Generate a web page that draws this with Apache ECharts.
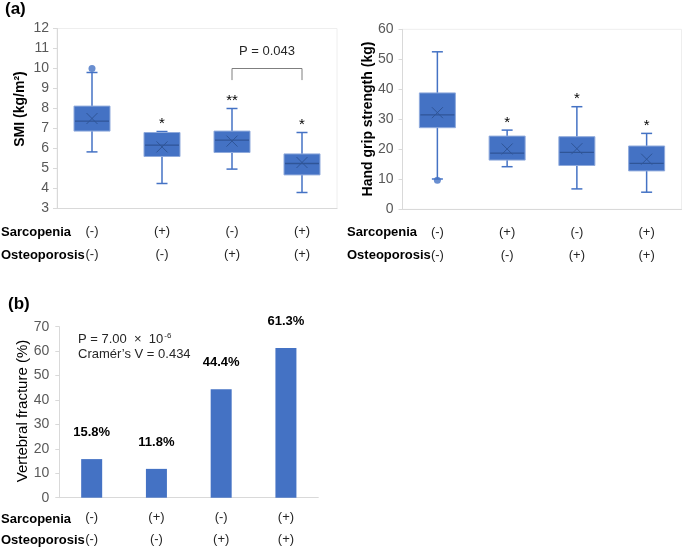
<!DOCTYPE html>
<html><head><meta charset="utf-8">
<script src="https://cdn.jsdelivr.net/npm/echarts@6/dist/echarts.min.js"></script>
<style>html,body{margin:0;padding:0;background:#fff}#c{width:685px;height:550px}</style>
</head><body><div id="c"></div>
<script>
// ---------- data ----------
const groups = ['S-O-', 'S+O-', 'S-O+', 'S+O+'];
const sarcopenia = ['(-)', '(+)', '(-)', '(+)'];
const osteoporosis = ['(-)', '(-)', '(+)', '(+)'];

// SMI boxes: [min, Q1, median, Q3, max]
const smiBox = [[5.83, 6.87, 7.37, 8.12, 9.8], [4.25, 5.6, 6.17, 6.8, 6.85], [4.97, 5.8, 6.42, 6.87, 8.0], [3.8, 4.68, 5.25, 5.73, 6.8]];
const smiMean = [7.5, 6.08, 6.37, 5.3];
const smiOutliers = [[0, 10.0]];
const smiStars = ['', '*', '**', '*'];
const smiStarY = [0, 7.45, 8.6, 7.4];
const smiBracket = [[2, 3, 10.0, 9.42]];
const smiBracketText = 'P = 0.043';
const smiBracketTextY = 10.83;

// Hand grip boxes: [min, Q1, median, Q3, max]
const gripBox = [[10.1, 27.2, 31.5, 38.8, 52.5], [14.2, 16.4, 18.7, 24.4, 26.4], [6.8, 14.6, 19.0, 24.2, 34.2], [5.7, 12.8, 15.3, 21.1, 25.3]];
const gripMean = [32.2, 20.1, 20.2, 16.7];
const gripOutliers = [[0, 9.7]];
const gripStars = ['', '*', '*', '*'];
const gripStarY = [0, 30.3, 38.1, 29.2];

// Vertebral fracture (%)
const fracture = [15.8, 11.8, 44.4, 61.3];

// ---------- styles ----------
const FONT = '"Liberation Sans", Arial, sans-serif';
const BLUE = '#4472C4', DARK = '#2F5597', EDGE = '#8FAADC', AXIS = '#D9D9D9';

function boxRender(params, api) {
  const i = api.value(0);
  const lo = api.coord([i, api.value(1)]);
  const q1 = api.coord([i, api.value(2)]);
  const md = api.coord([i, api.value(3)]);
  const q3 = api.coord([i, api.value(4)]);
  const hi = api.coord([i, api.value(5)]);
  const mn = api.coord([i, api.value(6)]);
  const x = lo[0], w = 36, cw = 11, xs = 5.5;
  const wl = {stroke: BLUE, lineWidth: 1.5};
  return {type: 'group', children: [
    {type: 'line', shape: {x1: x, y1: hi[1], x2: x, y2: lo[1]}, style: wl},
    {type: 'line', shape: {x1: x - cw / 2, y1: hi[1], x2: x + cw / 2, y2: hi[1]}, style: wl},
    {type: 'line', shape: {x1: x - cw / 2, y1: lo[1], x2: x + cw / 2, y2: lo[1]}, style: wl},
    {type: 'rect', shape: {x: x - w / 2, y: q3[1], width: w, height: q1[1] - q3[1]}, style: {fill: BLUE, stroke: EDGE, lineWidth: 1}},
    {type: 'line', shape: {x1: x - w / 2 + 1, y1: md[1], x2: x + w / 2 - 1, y2: md[1]}, style: {stroke: DARK, lineWidth: 1.3}},
    {type: 'line', shape: {x1: x - xs, y1: mn[1] - xs, x2: x + xs, y2: mn[1] + xs}, style: {stroke: DARK, lineWidth: 1}},
    {type: 'line', shape: {x1: x - xs, y1: mn[1] + xs, x2: x + xs, y2: mn[1] - xs}, style: {stroke: DARK, lineWidth: 1}}
  ]};
}
function starRender(params, api) {
  const p = api.coord([api.value(0), api.value(1)]);
  return {type: 'text', x: p[0], y: p[1] + 4, style: {text: api.value(2), fill: '#000', font: '15px ' + FONT, align: 'center', verticalAlign: 'middle'}};
}
function bracketRender(params, api) {
  const a = api.coord([api.value(0), api.value(2)]);
  const b = api.coord([api.value(1), api.value(3)]);
  const t = api.coord([api.value(0), smiBracketTextY]);
  const ln = {stroke: '#7F7F7F', lineWidth: 1, fill: null};
  return {type: 'group', children: [
    {type: 'polyline', shape: {points: [[a[0], b[1]], [a[0], a[1]], [b[0], a[1]], [b[0], b[1]]]}, style: ln},
    {type: 'text', x: (a[0] + b[0]) / 2, y: t[1], style: {text: smiBracketText, fill: '#262626', font: '13px ' + FONT, align: 'center', verticalAlign: 'middle'}}
  ]};
}

function xAxisFor(gi, lh, margin) {
  return {
    type: 'category', gridIndex: gi, data: groups,
    axisLine: {show: true, lineStyle: {color: AXIS}}, axisTick: {show: false},
    axisLabel: {formatter: (v, i) => sarcopenia[i] + '\n' + osteoporosis[i], fontSize: 13, lineHeight: lh, margin: margin, color: '#262626', fontFamily: FONT, interval: 0}
  };
}
function yAxisFor(gi, min, max, itv, margin) {
  return {
    type: 'value', gridIndex: gi, min: min, max: max, interval: itv,
    axisLine: {show: true, lineStyle: {color: AXIS}},
    axisTick: {show: true, length: 4, lineStyle: {color: AXIS}},
    splitLine: {show: false},
    axisLabel: {fontSize: 14, color: '#595959', margin: margin, fontFamily: FONT}
  };
}
function vTitle(text, x, y, font) {
  return {type: 'text', x: x, y: y, rotation: Math.PI / 2,
          style: {text: text, font: font, fill: '#000', align: 'center', verticalAlign: 'middle'}};
}
function rowHead(text, x, y) {
  return {type: 'text', x: x, y: y, style: {text: text, font: 'bold 13px ' + FONT, fill: '#000', verticalAlign: 'middle'}};
}

const chart = echarts.init(document.getElementById('c'), null, {renderer: 'canvas'});
chart.setOption({
  animation: false,
  backgroundColor: '#fff',
  textStyle: {fontFamily: FONT},
  grid: [
    {left: 57, top: 28.5, width: 280, height: 180, show: true, borderColor: '#EEEEEE', borderWidth: 1},
    {left: 402.5, top: 29.3, width: 279, height: 180, show: true, borderColor: '#EEEEEE', borderWidth: 1},
    {left: 59.3, top: 326.7, width: 259, height: 172.6, show: false}
  ],
  xAxis: [xAxisFor(0, 23, 11.5), xAxisFor(1, 23, 11.5), xAxisFor(2, 21.5, 9.3)],
  yAxis: [yAxisFor(0, 3, 12, 1, 8), yAxisFor(1, 0, 60, 10, 9), yAxisFor(2, 0, 70, 10, 10)],
  series: [
    {type: 'custom', xAxisIndex: 0, yAxisIndex: 0, renderItem: boxRender,
     encode: {x: 0, y: [1, 2, 3, 4, 5, 6]}, data: smiBox.map((b, i) => [i].concat(b, [smiMean[i]]))},
    {type: 'scatter', xAxisIndex: 0, yAxisIndex: 0, symbol: 'circle', symbolSize: 7, itemStyle: {color: BLUE}, data: smiOutliers, z: 1},
    {type: 'custom', xAxisIndex: 0, yAxisIndex: 0, renderItem: starRender, encode: {x: 0, y: 1},
     data: smiStars.map((s, i) => [i, smiStarY[i], s]).filter(d => d[2])},
    {type: 'custom', xAxisIndex: 0, yAxisIndex: 0, renderItem: bracketRender, encode: {x: 0, y: 2}, data: smiBracket},

    {type: 'custom', xAxisIndex: 1, yAxisIndex: 1, renderItem: boxRender,
     encode: {x: 0, y: [1, 2, 3, 4, 5, 6]}, data: gripBox.map((b, i) => [i].concat(b, [gripMean[i]]))},
    {type: 'scatter', xAxisIndex: 1, yAxisIndex: 1, symbol: 'circle', symbolSize: 7, itemStyle: {color: BLUE}, data: gripOutliers, z: 1},
    {type: 'custom', xAxisIndex: 1, yAxisIndex: 1, renderItem: starRender, encode: {x: 0, y: 1},
     data: gripStars.map((s, i) => [i, gripStarY[i], s]).filter(d => d[2])},

    {type: 'bar', xAxisIndex: 2, yAxisIndex: 2, data: fracture, barWidth: 21, itemStyle: {color: BLUE},
     label: {show: true, position: 'top', distance: 20, formatter: '{c}%', fontWeight: 'bold', fontSize: 13, color: '#000', fontFamily: FONT}}
  ],
  graphic: [
    {type: 'text', left: 5, top: 1, style: {text: '(a)', font: 'bold 17px ' + FONT, fill: '#000'}},
    {type: 'text', left: 8, top: 296, style: {text: '(b)', font: 'bold 17px ' + FONT, fill: '#000'}},
    vTitle('SMI (kg/m²)', 20, 109, 'bold 14px ' + FONT),
    vTitle('Hand grip strength (kg)', 368, 119, 'bold 14px ' + FONT),
    vTitle('Vertebral fracture (%)', 23, 411, '15px ' + FONT),
    rowHead('Sarcopenia', 1, 232), rowHead('Osteoporosis', 1, 255.5),
    rowHead('Sarcopenia', 347, 232), rowHead('Osteoporosis', 347, 255.5),
    rowHead('Sarcopenia', 1, 519.3), rowHead('Osteoporosis', 1, 540.8),
    {type: 'text', x: 78, y: 332, style: {
      text: 'P = 7.00  ×  10{sup|-6}\nCramér’s V = 0.434', font: '13px ' + FONT, fill: '#262626', lineHeight: 15,
      rich: {sup: {fontSize: 8, verticalAlign: 'top', fill: '#262626', padding: [0, 0, 6, 1]}}
    }}
  ]
});
</script></body></html>
